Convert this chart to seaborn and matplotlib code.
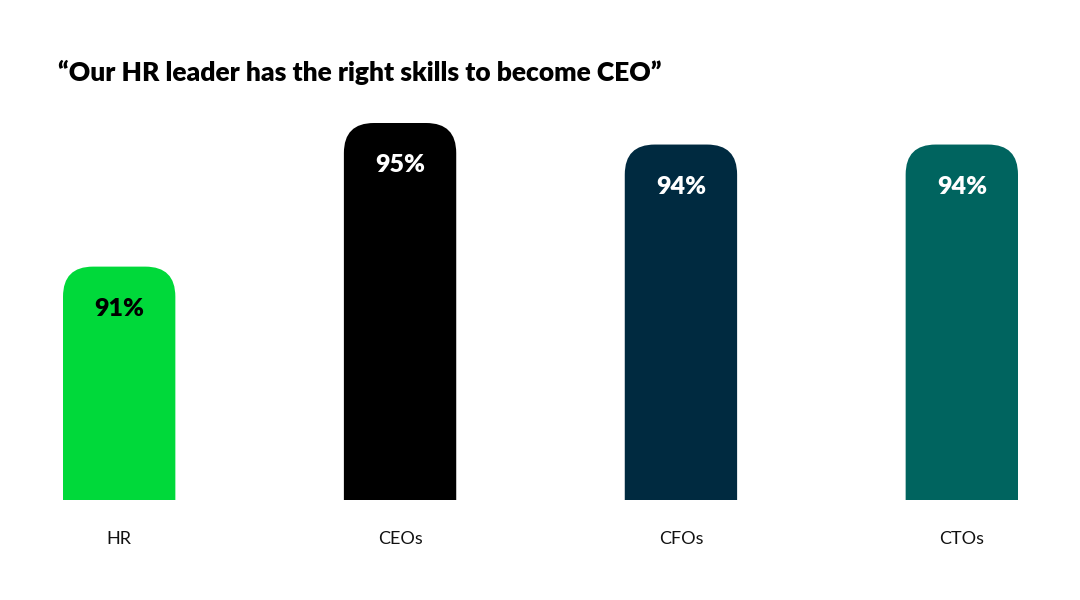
import numpy as np
import pandas as pd
import seaborn as sns
import matplotlib.pyplot as plt
from matplotlib.patches import FancyBboxPatch

sns.set_theme(style="white")
plt.rcParams['font.family'] = ['Lato', 'DejaVu Sans']

# data (bar values; labels show them rounded)
groups = ["HR", "CEOs", "CFOs", "CTOs"]
agree_pct = [91.0, 95.0, 94.4, 94.4]
bar_colors = ["#00d93a", "#000000", "#002a40", "#00645f"]
label_colors = ["#000000", "#ffffff", "#ffffff", "#ffffff"]
title = "\u201cOur HR leader has the right skills to become CEO\u201d"

df = pd.DataFrame({"group": groups, "pct": agree_pct})

fig = plt.figure(figsize=(10.8, 6), dpi=100)
ax = fig.add_axes([63 / 1080, 100 / 600, 955 / 1080, 377 / 600])

sns.barplot(data=df, x="group", y="pct", hue="group", palette=bar_colors,
            width=0.4, saturation=1, legend=False, ax=ax)

ymin, ymax = 84.5, 95
ax.set_xlim(-0.2, 3.2)
ax.set_ylim(ymin, ymax)

# swap square bars for ones with rounded tops (bottom is cut by the axes)
r_x = 30 / 281
r_y = 30 / (377 / (ymax - ymin))
for bar, txtc in zip(list(ax.patches), label_colors):
    x0, w = bar.get_x(), bar.get_width()
    h = bar.get_height()
    fc = bar.get_facecolor()
    bar.set_visible(False)
    rb = FancyBboxPatch((x0, ymin - 5), w, h - (ymin - 5),
                        boxstyle=f"round,pad=0,rounding_size={r_x}",
                        mutation_aspect=r_y / r_x,
                        facecolor=fc, edgecolor="none", clip_on=True)
    ax.add_patch(rb)
    ax.annotate(f"{h:.0f}%", (x0 + w / 2, h), xytext=(0, -42),
                textcoords="offset pixels", ha="center", va="center",
                fontsize=18, fontweight="heavy", color=txtc)

ax.set_xlabel("")
ax.set_ylabel("")
ax.set_yticks([])
ax.tick_params(axis="x", length=0, pad=22, labelsize=13, labelcolor="#111111")
sns.despine(ax=ax, left=True, bottom=True)

fig.text(58 / 1080, 1 - 72 / 600, title, fontsize=19, fontweight="heavy",
         ha="left", va="center", color="#000000")

fig.savefig("out.png", dpi=100, facecolor="white")
